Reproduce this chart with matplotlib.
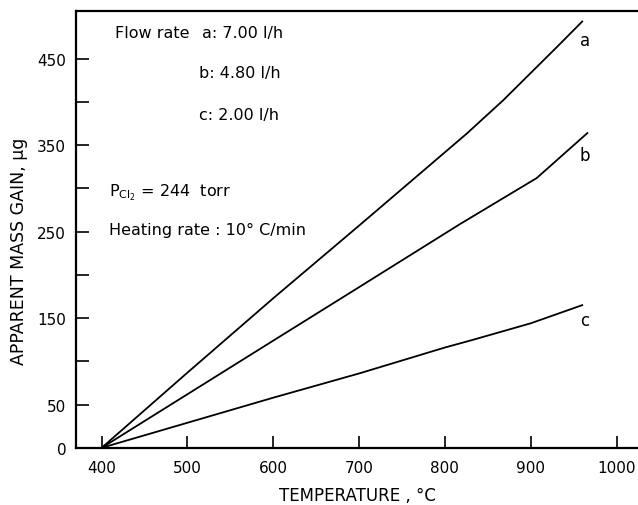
import matplotlib.pyplot as plt

# curves (temperature in deg C, mass gain in ug)
temp_a = [400, 500, 600, 700, 825, 868, 931, 960]
gain_a = [0, 87, 173, 257, 363, 402, 464, 493]
temp_b = [400, 500, 600, 689, 818, 907, 966]
gain_b = [0, 62, 124, 179, 259, 312, 364]
temp_c = [400, 500, 600, 700, 800, 833, 900, 960]
gain_c = [0, 29, 58, 86, 116, 125, 144, 165]

curve_names = ["a", "b", "c"]
name_pos = [(957, 472), (957, 339), (957, 148)]

x_ticks = [400, 500, 600, 700, 800, 900, 1000]
y_ticks = [0, 50, 100, 150, 200, 250, 300, 350, 400, 450]
y_labels = ["0", "50", "", "150", "", "250", "", "350", "", "450"]

plt.rcParams["font.family"] = "DejaVu Sans"
fig = plt.figure(figsize=(6.38, 5.06), dpi=100)
ax = fig.add_axes([0.119, 0.113, 0.881, 0.863])

for t, g in [(temp_a, gain_a), (temp_b, gain_b), (temp_c, gain_c)]:
    ax.plot(t, g, color="black", lw=1.3)

for name, (x, y) in zip(curve_names, name_pos):
    ax.text(x, y, name, fontsize=12, ha="left", va="center")

fs = 11.5
ax.text(415, 480, "Flow rate", fontsize=fs, va="center")
ax.text(517, 480, "a: 7.00 l/h", fontsize=fs, va="center")
ax.text(514, 434, "b: 4.80 l/h", fontsize=fs, va="center")
ax.text(514, 385, "c: 2.00 l/h", fontsize=fs, va="center")
ax.text(409, 296, r"$\mathregular{P_{Cl_2}}$ = 244  torr", fontsize=fs, va="center")
ax.text(409, 252, "Heating rate : 10° C/min", fontsize=fs, va="center")

ax.set_xlim(370, 1025)
ax.set_ylim(0, 505)
ax.set_xticks(x_ticks)
ax.set_yticks(y_ticks)
ax.set_yticklabels(y_labels)
ax.tick_params(direction="in", length=9, width=1.2, labelsize=11, pad=7)
ax.tick_params(axis="x", pad=9)

for s in ["left", "bottom", "top"]:
    ax.spines[s].set_linewidth(1.6)
ax.spines["right"].set_visible(False)

ax.set_xlabel("TEMPERATURE , °C", fontsize=12, labelpad=8)
ax.set_ylabel("APPARENT MASS GAIN, µg", fontsize=12.5)
ax.yaxis.set_label_coords(-0.086, 0.453)

plt.savefig("out.png", dpi=100)
